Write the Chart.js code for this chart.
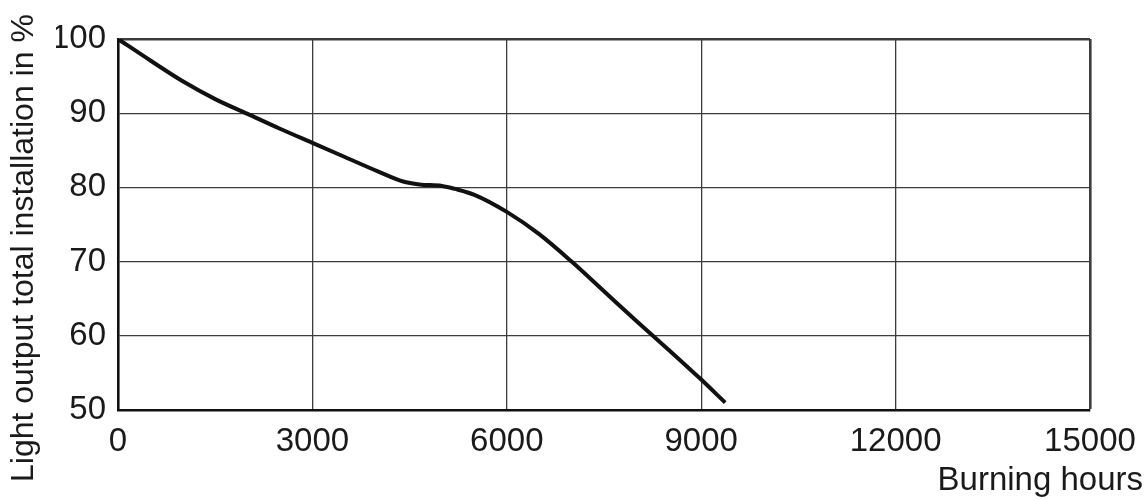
<!DOCTYPE html>
<html>
<head>
<meta charset="utf-8">
<script src="https://cdn.jsdelivr.net/npm/chart.js@4.4.1/dist/chart.umd.min.js"></script>
<style>
  html, body { margin: 0; padding: 0; background: #ffffff; }
  #wrap { width: 1144px; height: 500px; position: relative; }
</style>
</head>
<body>
<div id="wrap"><canvas id="c"></canvas></div>
<script>
// ---- data ----
const hours  = [0, 500, 1000, 1500, 2000, 2500, 3000, 3500, 4000, 4400, 4650, 5000, 5200, 5500, 6000, 6500, 7000, 7500, 8000, 8500, 9000, 9370];
const output = [100, 97.1, 94.3, 91.9, 89.9, 87.9, 86.0, 84.1, 82.2, 80.8, 80.4, 80.2, 79.8, 79.0, 76.7, 73.7, 70.0, 66.0, 62.0, 58.1, 54.1, 51.0];
const xTicks = [0, 3000, 6000, 9000, 12000, 15000];
const yTicks = [50, 60, 70, 80, 90, 100];
const xTitle = 'Burning hours';
const yTitle = 'Light output total installation in %';

const points = hours.map((h, i) => ({ x: h, y: output[i] }));

const FONT = '"Liberation Sans", Arial, Helvetica, sans-serif';
const INK = '#1a1a1a';
const GRID = '#3c3c3c';

const titlesPlugin = {
  id: 'axisTitles',
  afterDraw(chart) {
    const { ctx, chartArea } = chart;
    ctx.save();
    ctx.fillStyle = INK;
    ctx.font = '33px ' + FONT;
    ctx.textAlign = 'right';
    ctx.textBaseline = 'alphabetic';
    ctx.fillText(xTitle, chartArea.right + 53, chartArea.bottom + 80);
    ctx.translate(chartArea.left - 85, chartArea.bottom + 72);
    ctx.rotate(-Math.PI / 2);
    ctx.textAlign = 'left';
    ctx.font = '32px ' + FONT;
    ctx.fillText(yTitle, 0, 0);
    ctx.restore();
  }
};

new Chart(document.getElementById('c'), {
  type: 'scatter',
  data: {
    datasets: [{
      data: points,
      showLine: true,
      borderColor: '#111111',
      borderWidth: 4,
      pointRadius: 0,
      cubicInterpolationMode: 'monotone',
      fill: false
    }]
  },
  options: {
    responsive: true,
    maintainAspectRatio: false,
    animation: false,
    layout: { padding: { left: 56, right: 54, top: 39, bottom: 0 } },
    plugins: { legend: { display: false }, tooltip: { enabled: false } },
    scales: {
      x: {
        type: 'linear',
        min: xTicks[0],
        max: xTicks[xTicks.length - 1],
        afterBuildTicks: (s) => { s.ticks = xTicks.map(v => ({ value: v })); },
        afterFit: (s) => { s.height = 90; s.paddingRight = 0; s.paddingLeft = 0; },
        grid: {
          drawTicks: false,
          color: GRID,
          lineWidth: (c) => (c.tick && c.tick.value === 15000) ? 2.6 : 1.3
        },
        border: { display: true, color: '#111111', width: 2.6 },
        ticks: {
          padding: 12,
          color: INK,
          font: { family: FONT, size: 33 },
          callback: (v) => String(v)
        }
      },
      y: {
        type: 'linear',
        min: yTicks[0],
        max: yTicks[yTicks.length - 1],
        afterBuildTicks: (s) => { s.ticks = yTicks.map(v => ({ value: v })); },
        afterFit: (s) => { s.width = 62; },
        grid: {
          drawTicks: false,
          color: GRID,
          lineWidth: (c) => (c.tick && c.tick.value === 100) ? 2.6 : 1.3
        },
        border: { display: true, color: '#111111', width: 2.6 },
        ticks: {
          padding: 12,
          color: INK,
          font: { family: FONT, size: 33 },
          callback: (v) => String(v)
        }
      }
    }
  },
  plugins: [titlesPlugin]
});
</script>
</body>
</html>
